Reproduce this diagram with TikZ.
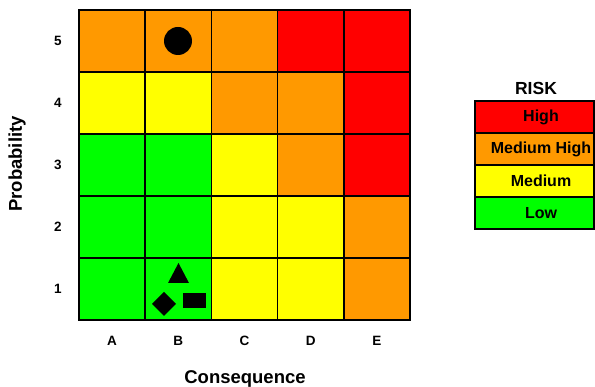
\documentclass[tikz,border=0pt]{standalone}
\usepackage{fontspec}
\setmainfont{Liberation Sans}
\definecolor{rR}{HTML}{FF0000}
\definecolor{rO}{HTML}{FF9900}
\definecolor{rY}{HTML}{FFFF00}
\definecolor{rG}{HTML}{00FF00}
\begin{document}
\begin{tikzpicture}[x=1pt,y=-1pt,
  cell/.style={draw=black,line width=1.5pt,minimum width=66.2pt,minimum height=62pt,inner sep=0pt,outer sep=0pt},
  axlbl/.style={font=\fontsize{13.5}{15}\selectfont\bfseries,inner sep=0pt},
  title/.style={font=\fontsize{18.5}{21}\selectfont\bfseries,inner sep=0pt},
  legrow/.style={draw=black,line width=1.5pt,minimum width=119pt,minimum height=32pt,inner sep=0pt,outer sep=0pt},
  legtext/.style={font=\fontsize{16}{18}\selectfont\bfseries,inner sep=0pt},
  riskmark/.style={fill=black,draw=none}]
\useasboundingbox (0,0) rectangle (595,387);
% grid cells: rows 5..1 top to bottom
\foreach \r/\cols in {1/{rO,rO,rO,rR,rR},2/{rY,rY,rO,rO,rR},3/{rG,rG,rY,rO,rR},4/{rG,rG,rY,rY,rO},5/{rG,rG,rY,rY,rO}}{
  \foreach \c [count=\j] in \cols {
    \node[cell,fill=\c] (cell-\r-\j) at ({79+66.2*(\j-0.5)},{10+62*(\r-0.5)}) {};
  }
}
% row labels
\foreach \n [count=\r] in {5,4,3,2,1}{
  \node[axlbl] (row-\n) at (58,{10+62*(\r-0.5)}) {\n};
}
% column labels
\foreach \l [count=\j] in {A,B,C,D,E}{
  \node[axlbl] (col-\l) at ({79+66.2*(\j-0.5)},341) {\l};
}
\node[title] (xlab) at (245,379) {Consequence};
\node[title,rotate=90] (ylab) at (17,164) {Probability};
% markers
\node[riskmark,circle,minimum size=28pt,inner sep=0pt] (m-circle) at (178,41) {};
\fill[black] (168,283) -- (178.5,263) -- (189,283) -- cycle;
\fill[black] (152,304) -- (164,292) -- (176,304) -- (164,316) -- cycle;
\fill[black] (183,293) rectangle (206,308);
% legend
\node[font=\fontsize{17.5}{20}\selectfont\bfseries,inner sep=0pt] (risk) at (536,88) {RISK};
\node[legrow,fill=rR] (leg-high) at (534.5,117) {};
\node[legrow,fill=rO] (leg-mh) at (534.5,149) {};
\node[legrow,fill=rY] (leg-med) at (534.5,181) {};
\node[legrow,fill=rG] (leg-low) at (534.5,213) {};
\node[legtext] (t-high) at (541,117) {High};
\node[legtext] (t-mh) at (541,149) {Medium High};
\node[legtext] (t-med) at (541,181) {Medium};
\node[legtext] (t-low) at (541,213) {Low};
\end{tikzpicture}
\end{document}
